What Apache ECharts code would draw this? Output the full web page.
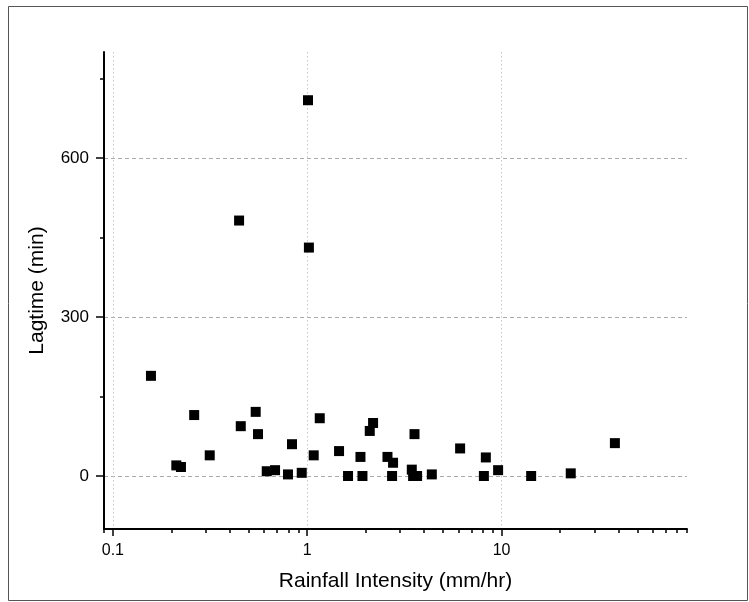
<!DOCTYPE html>
<html>
<head>
<meta charset="utf-8">
<script src="https://cdn.jsdelivr.net/npm/echarts@6/dist/echarts.min.js"></script>
<style>
html,body{margin:0;padding:0;background:#fff;}
#chart{width:749px;height:602px;}
</style>
</head>
<body>
<div id="chart"></div>
<script>
// ---- data ----
var rainfall = [0.157, 0.262, 0.455, 0.543, 0.558, 0.835, 0.315, 0.212, 0.224, 0.619, 0.683, 0.796, 0.937,
                1.160, 1.080, 1.458, 1.622, 1.879, 1.924, 2.182, 2.098, 2.588, 2.765, 2.733, 3.565, 3.452,
                3.676, 3.507, 4.376, 6.12, 8.30, 8.11, 9.60, 14.2, 22.7, 38.3, 1.009, 1.02, 0.446];
var lagtime  = [189, 115, 94, 121, 79, 60, 39, 20, 17, 9, 11, 3, 6,
                109, 39, 47, 0, 36, 0, 100, 85, 36, 25, 0, 79, 12,
                0, 0, 3, 52, 35, 0, 11, 0, 5, 62, 709, 431, 482];
var xMajorTicks = [0.1, 1, 10];
var xMinorTicks = [0.09, 0.2, 0.3, 0.4, 0.5, 0.6, 0.7, 0.8, 0.9, 2, 3, 4, 5, 6, 7, 8, 9, 20, 30, 40, 50, 60, 70, 80, 90];
var yMajorTicks = [0, 300, 600];
var yMinorTicks = [150, 450, 750];
var xRange = [0.09, 90];
var yRange = [-100, 800];
var xTitle = 'Rainfall Intensity (mm/hr)';
var yTitle = 'Lagtime (min)';

var points = rainfall.map(function (x, i) { return [x, lagtime[i]]; });
var FONT = 'Liberation Sans, Arial, sans-serif';

var chart = echarts.init(document.getElementById('chart'), null, {renderer: 'canvas'});
chart.setOption({
  backgroundColor: '#ffffff',
  animation: false,
  graphic: [{
    type: 'rect',
    shape: {x: 8.5, y: 6.5, width: 739, height: 594},
    style: {fill: 'none', stroke: '#555', lineWidth: 1},
    silent: true
  }],
  grid: {left: 104, right: 62, top: 52, bottom: 73, containLabel: false},
  xAxis: [{
    type: 'log',
    logBase: 10,
    min: xRange[0],
    max: xRange[1],
    position: 'bottom',
    name: xTitle,
    nameLocation: 'middle',
    nameGap: 42,
    nameTextStyle: {fontFamily: FONT, fontSize: 21, color: '#000'},
    axisLine: {show: true, onZero: false, lineStyle: {color: '#000', width: 2}},
    axisTick: {show: true, inside: false, length: 7, customValues: xMajorTicks,
      lineStyle: {color: '#000', width: 1.5}},
    axisLabel: {show: true, margin: 14, customValues: xMajorTicks,
      fontFamily: FONT, fontSize: 16, color: '#000'},
    splitLine: {show: true,
      lineStyle: {color: '#c8c8c8', type: [1.5, 2.5], width: 1}}
  }, {
    type: 'log',
    logBase: 10,
    min: xRange[0],
    max: xRange[1],
    position: 'bottom',
    axisLine: {show: false, onZero: false},
    axisTick: {show: true, inside: false, length: 4, customValues: xMinorTicks,
      lineStyle: {color: '#000', width: 1.5}},
    axisLabel: {show: false},
    splitLine: {show: false}
  }],
  yAxis: [{
    type: 'value',
    min: yRange[0],
    max: yRange[1],
    position: 'left',
    name: yTitle,
    nameLocation: 'middle',
    nameGap: 56,
    nameRotate: 90,
    nameTextStyle: {fontFamily: FONT, fontSize: 21, color: '#000'},
    axisLine: {show: true, onZero: false, lineStyle: {color: '#000', width: 2}},
    axisTick: {show: true, inside: false, length: 8, customValues: yMajorTicks,
      lineStyle: {color: '#000', width: 1.5}},
    axisLabel: {show: true, margin: 15, customValues: yMajorTicks,
      fontFamily: FONT, fontSize: 17, color: '#000'},
    splitLine: {show: true,
      lineStyle: {color: '#aaaaaa', type: [4, 3], width: 1}}
  }, {
    type: 'value',
    min: yRange[0],
    max: yRange[1],
    position: 'left',
    axisLine: {show: false, onZero: false},
    axisTick: {show: true, inside: false, length: 4, customValues: yMinorTicks,
      lineStyle: {color: '#000', width: 1.5}},
    axisLabel: {show: false},
    splitLine: {show: false}
  }],
  series: [{
    type: 'scatter',
    xAxisIndex: 0,
    yAxisIndex: 0,
    symbol: 'rect',
    symbolSize: 10,
    itemStyle: {color: '#000', opacity: 1},
    data: points
  }]
});
</script>
</body>
</html>
